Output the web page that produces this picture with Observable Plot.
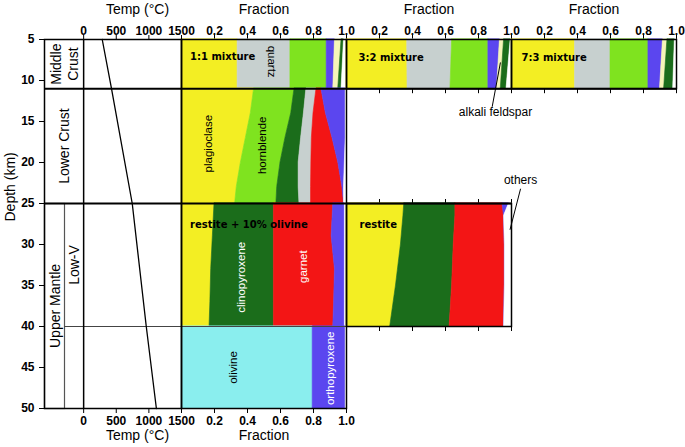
<!DOCTYPE html>
<html><head><meta charset="utf-8">
<script src="https://cdn.jsdelivr.net/npm/d3@7"></script>
<script src="https://cdn.jsdelivr.net/npm/@observablehq/plot@0.6"></script>
<style>
html,body{margin:0;padding:0;background:#fff;}
#chart{position:relative;width:685px;height:447px;overflow:hidden;background:#fff;}
#chart svg{position:absolute;left:0;top:0;background:transparent !important;overflow:visible;max-width:none !important;}
</style></head>
<body><div id="chart"></div>
<script>
// ---------------- DATA ----------------
const minerals = ["plagioclase", "quartz", "hornblende", "biotite", "alkali feldspar", "clinopyroxene", "garnet", "orthopyroxene", "olivine", "others"];
const mineralColors = ["#f3ee23", "#c7d0cf", "#7fe31f", "#5b46ef", "#f5f5b8", "#1b6d1b", "#f31515", "#5b46ef", "#8aeeee", "#ffffff"];

const depthTicks = [5, 10, 15, 20, 25, 30, 35, 40, 45, 50];
const tempTicks = [0, 500, 1000, 1500];
const tempDomain = [-600, 1500];
const fractionTicks = [0.2, 0.4, 0.6, 0.8, 1.0];
const layerBoundaries = [11, 25, 40];

const geothermDepth = [5, 11, 25, 40, 50];
const geothermTemp = [285, 427, 745, 960, 1115];

// each row: [mineral, fraction at each depth]
const midCrustDepths = [5, 11];
const midCrust11 = [
  ["plagioclase", 0.34, 0.34],
  ["quartz", 0.32, 0.32],
  ["hornblende", 0.22, 0.22],
  ["biotite", 0.05, 0.04],
  ["alkali feldspar", 0.04, 0.03],
  ["clinopyroxene", 0.015, 0.02],
  ["others", 0.015, 0.03]
];
const midCrust32 = [
  ["plagioclase", 0.368, 0.37],
  ["quartz", 0.272, 0.26],
  ["hornblende", 0.22, 0.23],
  ["biotite", 0.07, 0.052],
  ["alkali feldspar", 0.025, 0.023],
  ["clinopyroxene", 0.04, 0.035],
  ["others", 0.005, 0.03]
];
const midCrust73 = [
  ["plagioclase", 0.385, 0.385],
  ["quartz", 0.215, 0.215],
  ["hornblende", 0.23, 0.23],
  ["biotite", 0.088, 0.07],
  ["alkali feldspar", 0.027, 0.025],
  ["clinopyroxene", 0.045, 0.055],
  ["others", 0.01, 0.02]
];
const lowerCrustDepths = [11, 14, 17, 20, 23, 25];
const lowerCrust = [
  ["plagioclase", 0.44, 0.42, 0.39, 0.36, 0.335, 0.325],
  ["hornblende", 0.245, 0.245, 0.24, 0.24, 0.245, 0.25],
  ["clinopyroxene", 0.072, 0.077, 0.095, 0.11, 0.13, 0.14],
  ["quartz", 0.061, 0.058, 0.065, 0.077, 0.075, 0.07],
  ["garnet", 0.03, 0.075, 0.125, 0.163, 0.19, 0.20],
  ["biotite", 0.147, 0.12, 0.08, 0.04, 0.01, 0],
  ["others", 0.005, 0.005, 0.005, 0.01, 0.015, 0.015]
];
const lowVOlivineDepths = [25, 29, 33, 37, 40];
const lowVOlivine = [
  ["plagioclase", 0.20, 0.19, 0.18, 0.175, 0.17],
  ["clinopyroxene", 0.36, 0.37, 0.38, 0.385, 0.39],
  ["garnet", 0.36, 0.35, 0.37, 0.365, 0.36],
  ["orthopyroxene", 0.07, 0.08, 0.06, 0.065, 0.07],
  ["others", 0.01, 0.01, 0.01, 0.01, 0.01]
];
const lowVRestiteDepths = [25, 26.5, 30, 35, 40];
const lowVRestite = [
  ["plagioclase", 0.35, 0.345, 0.33, 0.30, 0.265],
  ["clinopyroxene", 0.31, 0.315, 0.32, 0.34, 0.36],
  ["garnet", 0.285, 0.295, 0.31, 0.32, 0.33],
  ["orthopyroxene", 0.04, 0, 0, 0, 0],
  ["others", 0.015, 0.045, 0.04, 0.04, 0.045]
];
const upperMantleDepths = [40, 50];
const upperMantle = [
  ["olivine", 0.795, 0.795],
  ["orthopyroxene", 0.20, 0.20],
  ["others", 0.005, 0.005]
];

// ---------------- LAYOUT ----------------
const W = 685, H = 447;
const FRAME_TOP = 39, FRAME_BOTTOM = 408;
const yPix = d => FRAME_TOP + (d - depthTicks[0]) * (FRAME_BOTTOM - FRAME_TOP) / (depthTicks[depthTicks.length - 1] - depthTicks[0]);
const X_LEFT = 44, X_MANTLE = 64, X_P1 = 181, X_P2 = 346, X_P3 = 511, X_END = 676;
const X_T0 = X_LEFT + (0 - tempDomain[0]) * (X_P1 - X_LEFT) / (tempDomain[1] - tempDomain[0]);
const TOP_TITLE_DY = -35.5, BOTTOM_TITLE_DY = 31.5, TOP_PAD = 0, BOTTOM_PAD = 2.5;

const chart = document.getElementById("chart");
const baseStyle = {background: "transparent", fontFamily: "'Liberation Sans', Arial, Helvetica, sans-serif", fontSize: "12px", fontWeight: "bold", color: "#000", overflow: "visible"};

function region(x0, x1, d0, d1, {x, y, marks = []} = {}) {
  const svg = Plot.plot({
    width: W, height: H,
    marginLeft: x0, marginRight: W - x1,
    marginTop: yPix(d0), marginBottom: H - yPix(d1),
    style: baseStyle,
    x: x,
    y: Object.assign({domain: [d0, d1], reverse: true, axis: null, label: null}, y || {}),
    color: {domain: minerals, range: mineralColors},
    marks
  });
  chart.appendChild(svg);
  return svg;
}

const toRows = (depths, table) => table.flatMap(([mineral, ...vals]) => vals.map((value, i) => ({mineral, depth: depths[i], value})));
const area = (depths, table) => Plot.areaX(toRows(depths, table), {
  y: "depth", x: "value", fill: "mineral", stroke: "mineral", strokeWidth: 0.6,
  order: table.map(r => r[0]), curve: "linear"
});
const fracAxis = (anchor, labels, pad) => ({domain: [0, 1], ticks: fractionTicks, tickFormat: labels ? ".1f" : () => "", axis: anchor, tickSize: 5, tickPadding: pad, label: null});
const tempAxis = (anchor, pad) => ({domain: tempDomain, ticks: tempTicks, tickFormat: "d", axis: anchor, tickSize: 5, tickPadding: pad, label: null});
const tickAnchor = ticks => Plot.ruleX(ticks, {strokeOpacity: 0});
const title = (txt, anchor, dx, dy, extra = {}) => Plot.text([txt], Object.assign({text: d => d, frameAnchor: anchor, dx, dy, fontSize: 14, fontWeight: "normal", fill: "black"}, extra));
const boxLabel = (txt, dx, dy) => Plot.text([txt], {text: d => d, frameAnchor: "top-left", dx, dy, textAnchor: "start", fontFamily: "'DejaVu Sans', sans-serif", fontSize: 10, fontWeight: "bold", fill: "black", ariaLabel: "boxlabel"});

// ---------------- AREAS + AXES ----------------
region(X_P1, X_P2, 5, 50, {x: fracAxis("top", true, TOP_PAD), marks: [
  area(midCrustDepths, midCrust11),
  area(lowerCrustDepths, lowerCrust),
  area(lowVOlivineDepths, lowVOlivine),
  area(upperMantleDepths, upperMantle)
]});
region(X_P1, X_P2, 5, 50, {x: fracAxis("bottom", true, BOTTOM_PAD), marks: [tickAnchor(fractionTicks)]});
region(X_P2, X_P3, 5, 11, {x: fracAxis("top", true, TOP_PAD), marks: [area(midCrustDepths, midCrust32)]});
region(X_P2, X_P3, 5, 11, {x: fracAxis("bottom", false, 1), marks: [tickAnchor(fractionTicks)]});
region(X_P3, X_END, 5, 11, {x: fracAxis("top", true, TOP_PAD), marks: [area(midCrustDepths, midCrust73)]});
region(X_P3, X_END, 5, 11, {x: fracAxis("bottom", false, 1), marks: [tickAnchor(fractionTicks)]});
region(X_P2, X_P3, 25, 40, {x: fracAxis("both", false, 1), marks: [area(lowVRestiteDepths, lowVRestite)]});

// ---------------- GRAY DIVIDERS ----------------
region(X_LEFT, X_MANTLE, 25, 50, {marks: [Plot.frame({stroke: "#555", strokeWidth: 1.2})]});
region(X_MANTLE, X_P3, 25, 50, {marks: [Plot.ruleY([layerBoundaries[2]], {stroke: "#444", strokeWidth: 1.2})]});

// ---------------- TEMPERATURE COLUMN ----------------
region(X_LEFT, X_P1, 5, 50, {
  x: tempAxis("top", TOP_PAD),
  y: {ticks: depthTicks, tickFormat: "d", axis: "left", tickSize: 5, tickPadding: 5},
  marks: [
    Plot.ruleX([0], {stroke: "black", strokeWidth: 1.5}),
    Plot.line(geothermDepth.map((d, i) => ({depth: d, temp: geothermTemp[i]})), {x: "temp", y: "depth", stroke: "black", strokeWidth: 1.3}),
    Plot.frame({stroke: "black", strokeWidth: 1.5}),
    title("Temp (°C)", "top", 24.5, TOP_TITLE_DY),
    title("Temp (°C)", "bottom", 24.5, BOTTOM_TITLE_DY),
    title("Depth (km)", "left", -34, -2.5, {rotate: -90})
  ]
});
region(X_LEFT, X_P1, 5, 50, {x: tempAxis("bottom", BOTTOM_PAD), marks: [tickAnchor(tempTicks)]});

// ---------------- BLACK FRAMES / LAYER LINES ----------------
region(X_LEFT, X_END, 5, 50, {marks: [Plot.ruleY([layerBoundaries[0]], {stroke: "black", strokeWidth: 2})]});
region(X_LEFT, X_P3, 5, 50, {marks: [Plot.ruleY([layerBoundaries[1]], {stroke: "black", strokeWidth: 2})]});
region(X_P1, X_P2, 5, 50, {marks: [Plot.frame({stroke: "black", strokeWidth: 1.5})]});
region(X_P2, X_P3, 5, 11, {marks: [Plot.frame({stroke: "black", strokeWidth: 1.5})]});
region(X_P3, X_END, 5, 11, {marks: [Plot.frame({stroke: "black", strokeWidth: 1.5})]});
region(X_P2, X_P3, 25, 40, {marks: [Plot.frame({stroke: "black", strokeWidth: 1.5})]});

// ---------------- LAYER NAMES ----------------
const layerText = (txt) => Plot.text([txt], {text: d => d, frameAnchor: "middle", rotate: -90, fontSize: 14, fontWeight: "normal", lineHeight: 1.2, fill: "black"});
region(X_LEFT, X_T0, 5, 11, {marks: [layerText("Middle\nCrust")]});
region(X_LEFT, X_T0, 11, 25, {marks: [layerText("Lower Crust")]});
region(X_LEFT, X_MANTLE, 25, 50, {marks: [layerText("Upper Mantle")]});
region(X_MANTLE, X_T0, 25, 40, {marks: [layerText("Low-V")]});

// ---------------- PANEL TITLES & MINERAL LABELS ----------------
const darkLabels = [
  {text: "plagioclase", x: 0.16, depth: 17.7},
  {text: "hornblende", x: 0.49, depth: 17.9},
  {text: "olivine", x: 0.311, depth: 45.0}
];
const lightLabels = [
  {text: "clinopyroxene", x: 0.364, depth: 34.0},
  {text: "garnet", x: 0.737, depth: 32.7},
  {text: "orthopyroxene", x: 0.899, depth: 45.1}
];
const flippedLabels = [{text: "quartz", x: 0.545, depth: 7.7}];
const labelFont = {fontFamily: "'Liberation Sans', Arial, sans-serif", fontSize: 11.5, fontWeight: "normal"};

region(X_P1, X_P2, 5, 50, {x: {domain: [0, 1], axis: null}, marks: [
  Plot.text(darkLabels, {x: "x", y: "depth", text: "text", rotate: -90, fill: "black", ...labelFont}),
  Plot.text(lightLabels, {x: "x", y: "depth", text: "text", rotate: -90, fill: "white", ...labelFont}),
  Plot.text(flippedLabels, {x: "x", y: "depth", text: "text", rotate: 90, fill: "black", ...labelFont}),
  title("Fraction", "top", 0, TOP_TITLE_DY),
  title("Fraction", "bottom", 0, BOTTOM_TITLE_DY)
]});
region(X_P1, X_P2, 5, 11, {marks: [boxLabel("1:1 mixture", 8.5, 13.5)]});
region(X_P1, X_P2, 25, 40, {marks: [boxLabel("restite + 10% olivine", 8.5, 17.7)]});
region(X_P2, X_P3, 5, 11, {marks: [boxLabel("3:2 mixture", 12, 14), title("Fraction", "top", 0, TOP_TITLE_DY)]});
region(X_P3, X_END, 5, 11, {marks: [boxLabel("7:3 mixture", 10, 14), title("Fraction", "top", 0, TOP_TITLE_DY)]});
region(X_P2, X_P3, 25, 40, {marks: [boxLabel("restite", 13, 17.7)]});

// annotations with pointers (panel 2 coordinates)
const pointers = [
  {x1: 0.883, d1: 13.2, x2: 0.933, d2: 7.8},
  {x1: 1.055, d1: 23.2, x2: 0.991, d2: 28.2}
];
const notes = [
  {text: "alkali feldspar", x: 0.903, depth: 13.9},
  {text: "others", x: 1.055, depth: 22.1}
];
region(X_P2, X_P3, 5, 50, {x: {domain: [0, 1], axis: null}, marks: [
  Plot.link(pointers, {x1: "x1", y1: "d1", x2: "x2", y2: "d2", stroke: "black", strokeWidth: 1}),
  Plot.text(notes, {x: "x", y: "depth", text: "text", fill: "black", fontSize: 12, fontWeight: "normal"})
]});

// white boxes behind the panel titles
document.querySelectorAll('g[aria-label="boxlabel"] text').forEach(t => {
  const b = t.getBBox();
  const r = document.createElementNS("http://www.w3.org/2000/svg", "rect");
  r.setAttribute("x", b.x - 4);
  r.setAttribute("y", b.y - 1);
  r.setAttribute("width", b.width + 8);
  r.setAttribute("height", b.height + 2);
  r.setAttribute("fill", "white");
  r.setAttribute("stroke", "none");
  const tr = t.getAttribute("transform");
  if (tr) r.setAttribute("transform", tr);
  t.parentNode.insertBefore(r, t);
});
</script>
</body></html>
